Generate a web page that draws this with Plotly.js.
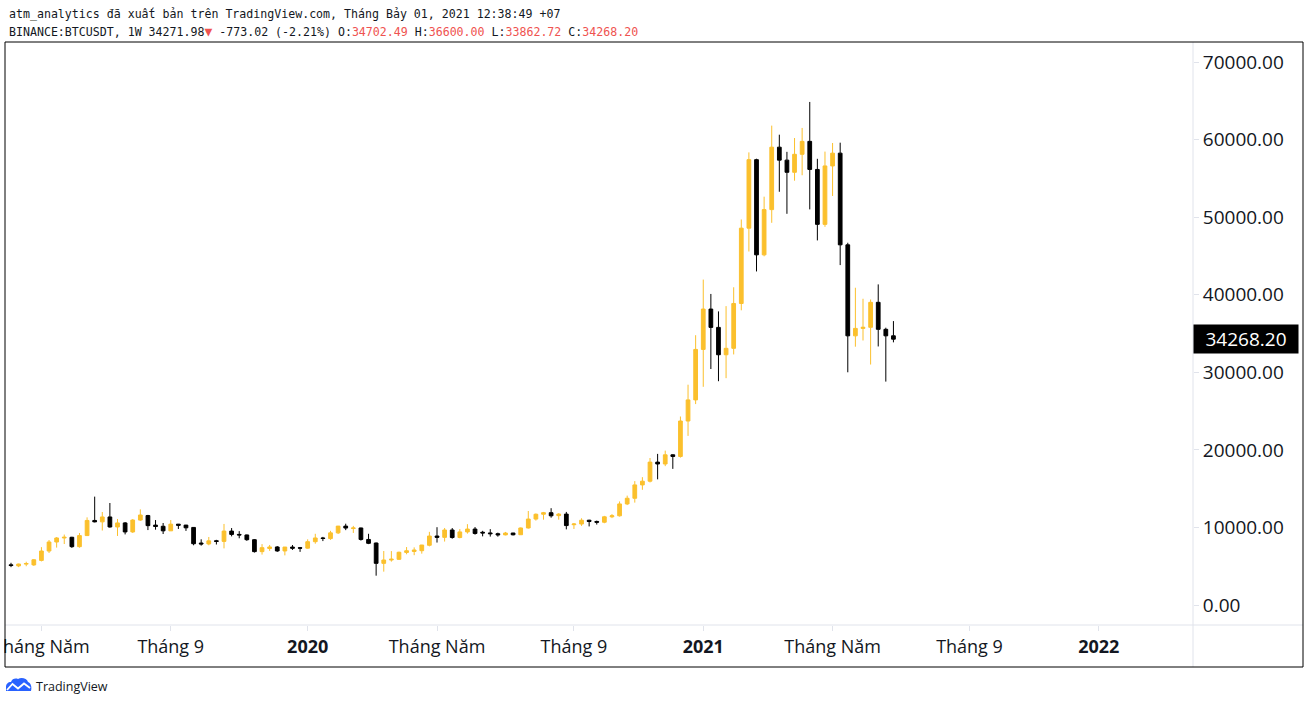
<!DOCTYPE html>
<html><head><meta charset="utf-8">
<script src="https://cdn.plot.ly/plotly-3.0.1.min.js"></script>
<style>html,body{margin:0;padding:0;background:#fff;}#wrap{position:relative;width:1308px;height:704px;}#chart{width:1308px;height:704px;}#mask{position:absolute;left:0;top:627px;width:4px;height:38px;background:#fff;}</style>
</head><body><div id="wrap"><div id="chart"></div><div id="mask"></div></div>
<script>
// ---- data (weekly candles, BINANCE:BTCUSDT 1W) ----
const dates = ['2019-04-08','2019-04-15','2019-04-22','2019-04-29','2019-05-06','2019-05-13','2019-05-20','2019-05-27','2019-06-03','2019-06-10',
'2019-06-17','2019-06-24','2019-07-01','2019-07-08','2019-07-15','2019-07-22','2019-07-29','2019-08-05','2019-08-12','2019-08-19',
'2019-08-26','2019-09-02','2019-09-09','2019-09-16','2019-09-23','2019-09-30','2019-10-07','2019-10-14','2019-10-21','2019-10-28',
'2019-11-04','2019-11-11','2019-11-18','2019-11-25','2019-12-02','2019-12-09','2019-12-16','2019-12-23','2019-12-30','2020-01-06',
'2020-01-13','2020-01-20','2020-01-27','2020-02-03','2020-02-10','2020-02-17','2020-02-24','2020-03-02','2020-03-09','2020-03-16',
'2020-03-23','2020-03-30','2020-04-06','2020-04-13','2020-04-20','2020-04-27','2020-05-04','2020-05-11','2020-05-18','2020-05-25',
'2020-06-01','2020-06-08','2020-06-15','2020-06-22','2020-06-29','2020-07-06','2020-07-13','2020-07-20','2020-07-27','2020-08-03',
'2020-08-10','2020-08-17','2020-08-24','2020-08-31','2020-09-07','2020-09-14','2020-09-21','2020-09-28','2020-10-05','2020-10-12',
'2020-10-19','2020-10-26','2020-11-02','2020-11-09','2020-11-16','2020-11-23','2020-11-30','2020-12-07','2020-12-14','2020-12-21',
'2020-12-28','2021-01-04','2021-01-11','2021-01-18','2021-01-25','2021-02-01','2021-02-08','2021-02-15','2021-02-22','2021-03-01',
'2021-03-08','2021-03-15','2021-03-22','2021-03-29','2021-04-05','2021-04-12','2021-04-19','2021-04-26','2021-05-03','2021-05-10',
'2021-05-17','2021-05-24','2021-05-31','2021-06-07','2021-06-14','2021-06-21','2021-06-28'];

const open = [5180,5040,5270,5170,5750,6960,8120,8640,8730,7520,
8950,10900,10720,11350,10060,10580,9420,10950,11530,10300,
10150,9560,10420,10300,10000,7990,7870,8280,8200,9530,
9100,9030,8420,6880,7280,7480,6970,7470,7380,7330,
8160,8640,8560,9300,10170,9860,9930,8450,7990,5370,
5800,5890,6780,6900,7000,7700,8890,8720,9670,8700,
9420,9790,9380,9290,9190,9040,9280,9060,9930,11080,
11700,11900,11520,11720,10350,10440,10930,10770,10670,11370,
11500,13030,13760,15480,15960,18420,18180,19360,19150,23720,
26440,32950,38150,35790,32260,33090,38870,48580,57410,45140,
50970,59020,57350,55780,58100,59770,56150,49070,56600,58250,
46430,34700,35660,35800,39020,35540,34702.49];

const high = [5440,5330,5580,5920,7460,8380,8760,9080,8790,9280,
11300,13970,11990,13150,11090,10700,11080,12330,11620,10950,
10570,10950,10450,10330,10050,8470,8770,8400,10450,9920,
9520,9080,8500,7850,7740,7600,7480,7730,7480,8470,
9180,8780,9560,10200,10480,10200,9970,9180,8050,6960,
6950,6880,7470,7430,7750,9430,10030,9930,9920,9790,
10420,10050,9560,9780,9330,9420,9300,9990,12120,11800,
12000,12480,11850,12000,10570,11180,10990,10880,11490,11720,
13350,14100,15970,16480,18950,19480,19900,19420,24300,28400,
34780,41950,40100,37850,38530,40960,49700,58350,57530,52640,
61800,60630,58420,60200,61500,64850,57520,58450,59560,59600,
46700,40900,39480,39380,41330,35750,36600.00];

const low = [4880,4880,5000,5040,5620,6700,7400,7860,7360,7390,
8900,10650,9600,9970,8900,9100,9290,10830,9660,9710,
9150,9540,9800,9550,7700,7650,7700,7800,7300,8850,
8600,8270,6760,6500,6980,6850,6400,7100,6850,7250,
7900,8240,8400,9150,9650,9290,8300,7850,3780,4300,
5590,5800,6540,6420,6620,7560,8050,8180,8550,8600,
9200,9070,8850,8820,8810,8980,8970,9040,9850,10880,
11000,11260,11000,9750,9800,10200,10130,10370,10540,11200,
11400,12880,13200,14850,15800,16200,17900,17550,19000,21800,
25900,28130,30420,28850,29240,32300,37990,45570,43000,44950,
49270,53270,50430,54700,55400,51000,47000,48750,52730,43820,
30000,33300,34100,31000,33330,28800,33862.72];

const close = [5090,5280,5350,5830,6960,8120,8640,8730,7520,8950,
10900,10720,11350,10060,10580,9420,10950,11600,10230,10120,
9560,10420,10280,9950,7900,7870,8270,8200,9530,9100,
9030,8420,6880,7390,7480,6970,7470,7320,7330,8160,
8640,8580,9300,10170,9920,9930,8450,7950,5370,5800,
5900,6800,6990,7090,7730,8890,8720,9670,8700,9420,
9790,9220,9290,9190,9040,9280,9050,9930,11080,11700,
11900,11500,11720,10240,10440,10930,10770,10670,11370,11500,
13030,13760,15480,15960,18420,18180,19360,19150,23720,26440,
32950,38150,35790,32260,33090,38870,48580,57410,45140,50970,
59020,57350,55780,58100,59770,56150,49070,56600,58250,46430,
34700,35660,35800,39020,35540,34700,34268.20];

const priceTicks = [0,10000,20000,30000,40000,50000,60000,70000];
const timeTickDates = ['2019-05-06','2019-09-02','2020-01-06','2020-05-04','2020-09-07','2021-01-04','2021-05-03','2021-09-06','2022-01-03'];
const timeTickLabels = ['Tháng Năm','Tháng 9','<b>2020</b>','Tháng Năm','Tháng 9','<b>2021</b>','Tháng Năm','Tháng 9','<b>2022</b>'];
const lastPrice = 34268.20;
const headerLine1 = 'atm_analytics đã xuất bản trên TradingView.com, Tháng Bảy 01, 2021 12:38:49 +07';
const RED = '#ef5350';
const headerLine2 = 'BINANCE:BTCUSDT, 1W 34271.98<span style="color:' + RED + ';font-size:13px">▼</span> -773.02 (-2.21%) O:<span style="color:' + RED + '">34702.49</span> H:<span style="color:' + RED + '">36600.00</span> L:<span style="color:' + RED + '">33862.72</span> C:<span style="color:' + RED + '">34268.20</span>';

// ---- geometry ----
const W = 1308, H = 704, ML = 5, MR = 115, MT = 42, MB = 79;
const PW = W - ML - MR, PH = H - MT - MB;
const px = x => (x - ML) / PW;
const py = y => (H - MB - y) / PH;
function pathPx(str) {
  let toggle = 0;
  return str.replace(/-?\d+(\.\d+)?/g, m => {
    const v = parseFloat(m);
    const r = (toggle % 2 === 0) ? px(v) : py(v);
    toggle++;
    return r.toFixed(5);
  });
}
function fmt(ms) {
  const d = new Date(ms), p = n => String(n).padStart(2, '0');
  return d.getUTCFullYear() + '-' + p(d.getUTCMonth() + 1) + '-' + p(d.getUTCDate()) + ' ' +
    p(d.getUTCHours()) + ':' + p(d.getUTCMinutes()) + ':' + p(d.getUTCSeconds());
}
const WEEK = 7 * 864e5;
const base = Date.parse(dates[0] + 'T00:00:00Z');
const xRange = [fmt(base - 0.789 * WEEK), fmt(base + 155.38 * WEEK)];

const YEL = '#FBC02D';
const TXT = '#131722';
const SEP = '#e0e3eb';

const trace = {
  type: 'candlestick', x: dates, open: open, high: high, low: low, close: close,
  increasing: {line: {color: YEL, width: 1}, fillcolor: YEL},
  decreasing: {line: {color: '#000000', width: 1}, fillcolor: '#000000'},
  whiskerwidth: 0, hoverinfo: 'skip', showlegend: false
};

const layout = {
  width: W, height: H,
  margin: {l: ML, r: MR, t: MT, b: MB, pad: 0},
  paper_bgcolor: '#ffffff', plot_bgcolor: '#ffffff',
  showlegend: false, hovermode: false,
  xaxis: {
    type: 'date', range: xRange, rangeslider: {visible: false},
    showgrid: false, zeroline: false, showline: false,
    tickmode: 'array', tickvals: timeTickDates, ticktext: timeTickLabels,
    ticklabeloverflow: 'allow',
    ticks: 'outside', ticklen: 5, tickcolor: SEP,
    tickfont: {family: 'Open Sans, sans-serif', size: 18, color: TXT}, fixedrange: true
  },
  yaxis: {
    side: 'right', range: [-2578, 72579],
    showgrid: false, zeroline: false, showline: false,
    tickmode: 'array', tickvals: priceTicks, tickformat: '.2f',
    ticks: 'outside', ticklen: 5, tickcolor: SEP,
    tickfont: {family: 'Open Sans, sans-serif', size: 19, color: TXT}, fixedrange: true
  },
  shapes: [
    {type: 'line', xref: 'paper', yref: 'paper', x0: 1, x1: 1, y0: py(667), y1: py(42), line: {color: SEP, width: 1}},
    {type: 'line', xref: 'paper', yref: 'paper', x0: px(5), x1: px(1303), y0: 0, y1: 0, line: {color: SEP, width: 1}},
    {type: 'rect', xref: 'paper', yref: 'paper', x0: px(5), x1: px(1303), y0: py(667), y1: py(42), line: {color: '#000000', width: 1}, fillcolor: 'rgba(0,0,0,0)'},
    {type: 'path', xref: 'paper', yref: 'paper', path: pathPx('M 6 691 L 6 687 C 6 684 8 682 11 682 C 12 679 15 678 18 679 C 21 677 27 678 28 682 C 31 683 32 687 31 691 Z'), fillcolor: '#2962FF', line: {width: 0}},
    {type: 'path', xref: 'paper', yref: 'paper', path: pathPx('M 7 690 L 12.5 684 L 18 688.5 L 24 683.5 L 30 688'), line: {color: '#ffffff', width: 1.8}}
  ],
  annotations: [
    {xref: 'paper', yref: 'paper', x: px(7), y: py(14), xanchor: 'left', yanchor: 'middle', showarrow: false,
     text: headerLine1, font: {family: 'DejaVu Sans Mono, monospace', size: 11.6, color: TXT}},
    {xref: 'paper', yref: 'paper', x: px(7), y: py(31), xanchor: 'left', yanchor: 'middle', showarrow: false,
     text: headerLine2, font: {family: 'DejaVu Sans Mono, monospace', size: 11.6, color: TXT}},
    {xref: 'paper', yref: 'y', x: 1, y: lastPrice, xanchor: 'left', yanchor: 'middle', showarrow: false,
     text: lastPrice.toFixed(2), bgcolor: '#000000', borderpad: 4, width: 96, height: 20, align: 'center',
     font: {family: 'Open Sans, sans-serif', size: 19, color: '#ffffff'}},
    {xref: 'paper', yref: 'paper', x: px(34), y: py(686), xanchor: 'left', yanchor: 'middle', showarrow: false,
     text: 'TradingView', font: {family: 'Open Sans, sans-serif', size: 12.5, color: TXT}}
  ]
};

Plotly.newPlot('chart', [trace], layout, {staticPlot: true, displayModeBar: false});
</script>
</body></html>
